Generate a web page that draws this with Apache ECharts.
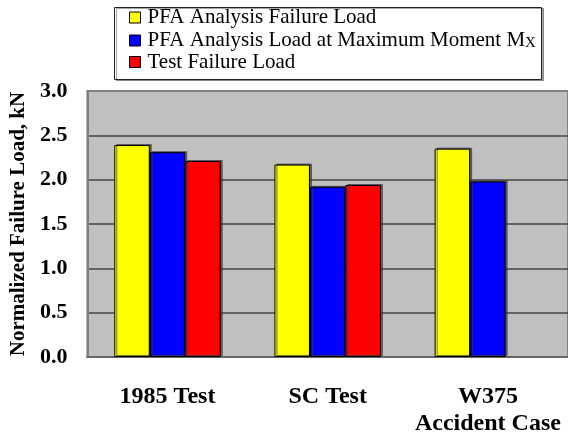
<!DOCTYPE html>
<html><head><meta charset="utf-8">
<script src="https://cdn.jsdelivr.net/npm/echarts@6/dist/echarts.min.js"></script>
<style>html,body{margin:0;padding:0;background:#fff}#c{width:568px;height:440px}</style>
</head><body><div id="c"></div>
<script>
var categories = ['1985 Test', 'SC Test', 'W375\nAccident Case'];
var pfaFailure = [2.39, 2.17, 2.35];
var pfaMaxMoment = [2.31, 1.92, 1.98];
var testFailure = [2.21, 1.94, null];
var yTicks = [0, 0.5, 1.0, 1.5, 2.0, 2.5, 3.0];
var seriesNames = ['PFA Analysis Failure Load', 'PFA Analysis Load at Maximum Moment M', 'Test Failure Load'];

var FONT = "'Liberation Serif', 'Times New Roman', serif";
var chart = echarts.init(document.getElementById('c'));
function bar(name, data, color) {
  return {
    name: name, type: 'bar', data: data, barWidth: 35.5, barGap: '0%',
    itemStyle: { color: color, borderColor: '#000', borderWidth: 1,
      shadowColor: 'rgba(60,60,60,0.7)', shadowOffsetX: 2, shadowOffsetY: -1, shadowBlur: 0 }
  };
}
chart.setOption({
  animation: false,
  graphic: [{
    type: 'rect', left: 114, top: 7, z: 0,
    shape: { width: 427, height: 72 },
    style: { fill: '#fff', stroke: '#222', lineWidth: 1, shadowColor: 'rgba(0,0,0,0.35)', shadowOffsetX: 2, shadowOffsetY: 1 }
  }],
  legend: {
    orient: 'vertical', left: 129, top: 7, padding: 0, itemGap: 0.5,
    itemWidth: 11, itemHeight: 11, z: 10, icon: 'rect',
    itemStyle: { shadowColor: 'transparent', shadowOffsetX: 0, shadowOffsetY: 0, borderColor: '#000', borderWidth: 1 },
    formatter: function (n) {
      return n === seriesNames[1] ? '{a|' + n + '}{s|X}' : '{a|' + n + '}';
    },
    textStyle: {
      fontFamily: FONT, fontSize: 21, color: '#000', lineHeight: 20, padding: [0, 0, 0, 2],
      rich: {
        a: { fontFamily: FONT, fontSize: 21, color: '#000', lineHeight: 20 },
        s: { fontFamily: FONT, fontSize: 15, color: '#000', verticalAlign: 'bottom', lineHeight: 14, padding: [7, 0, 0, 0] }
      }
    },
    data: seriesNames
  },
  grid: {
    left: 86, top: 91, width: 485, height: 266, show: true,
    backgroundColor: '#C0C0C0', borderColor: '#808080', borderWidth: 2
  },
  xAxis: {
    type: 'category', data: categories,
    axisTick: { show: false },
    axisLine: { show: true, lineStyle: { color: '#666', width: 2 } },
    axisLabel: { fontFamily: FONT, fontSize: 24, fontWeight: 'bold', color: '#000', margin: 26, lineHeight: 27, interval: 0, verticalAlign: 'top' }
  },
  yAxis: {
    type: 'value', min: yTicks[0], max: yTicks[yTicks.length - 1], interval: 0.5,
    name: 'Normalized Failure Load, kN', nameLocation: 'middle', nameGap: 58, nameRotate: 90,
    nameTextStyle: { fontFamily: FONT, fontSize: 21, fontWeight: 'bold', color: '#000' },
    axisLine: { show: true, lineStyle: { color: '#808080', width: 2 } },
    axisTick: { show: false },
    splitLine: { show: true, showMinLine: false, showMaxLine: false, lineStyle: { color: '#444', width: 1.5 } },
    axisLabel: { fontFamily: FONT, fontSize: 22, fontWeight: 'bold', color: '#000', margin: 20,
      formatter: function (v) { return v.toFixed(1); } }
  },
  series: [
    bar(seriesNames[0], pfaFailure, '#FFFF00'),
    bar(seriesNames[1], pfaMaxMoment, '#0000FF'),
    bar(seriesNames[2], testFailure, '#FF0000')
  ]
});
</script></body></html>
